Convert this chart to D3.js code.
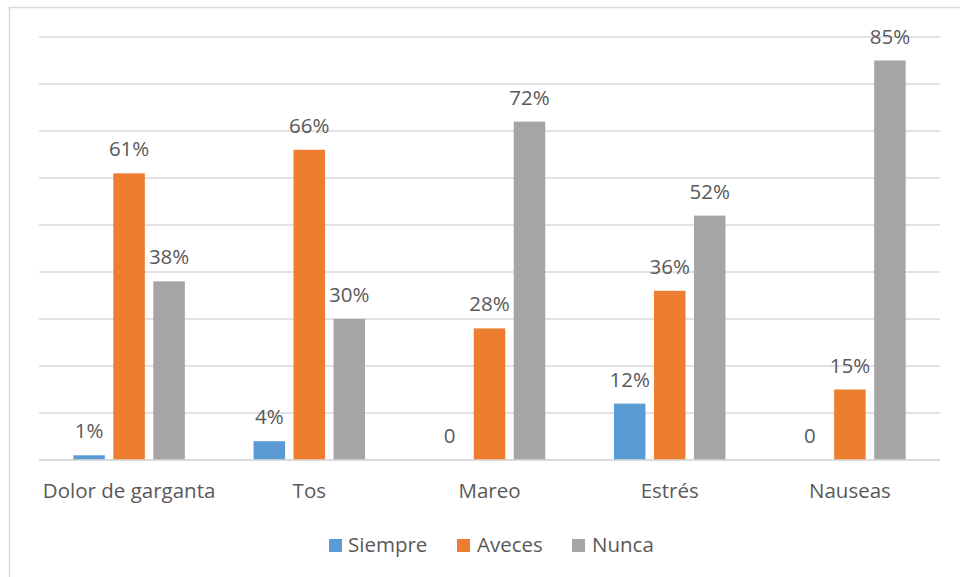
<!DOCTYPE html>
<html>
<head>
<meta charset="utf-8">
<script src="https://cdn.jsdelivr.net/npm/d3@7"></script>
<style>
  html, body { margin: 0; padding: 0; background: #fff; }
  text { font-family: "Open Sans", "Noto Sans", sans-serif; fill: #595959; }
</style>
</head>
<body>
<svg id="chart" width="960" height="577"></svg>
<script>
const categories = ["Dolor de garganta", "Tos", "Mareo", "Estrés", "Nauseas"];
const seriesNames = ["Siempre", "Aveces", "Nunca"];
const siempre = [1, 4, 0, 12, 0];
const aveces = [61, 66, 28, 36, 15];
const nunca = [38, 30, 72, 52, 85];
const colors = ["#5b9bd5", "#ed7d31", "#a5a5a5"];
const gridTicks = [0, 10, 20, 30, 40, 50, 60, 70, 80, 90];

const seriesValues = [siempre, aveces, nunca];
const svg = d3.select("#chart");
const FS = 20.5;

// outer frame
svg.append("rect")
  .attr("x", 9.5).attr("y", 7.5)
  .attr("width", 970).attr("height", 600)
  .attr("fill", "#fff").attr("stroke", "#d9d9d9").attr("stroke-width", 1.5);

const x0 = d3.scaleBand().domain(categories).range([39, 940]).paddingInner(0).paddingOuter(0);
const y = d3.scaleLinear().domain([0, 90]).range([460, 37]);

const barW = 31.5, gap = 8.5;
const x1 = d3.scaleOrdinal().domain(seriesNames)
  .range(seriesNames.map((s, i) => (i - 1) * (barW + gap) - barW / 2));

// gridlines
svg.append("g").selectAll("line").data(gridTicks).join("line")
  .attr("x1", 39).attr("x2", 940)
  .attr("y1", d => y(d)).attr("y2", d => y(d))
  .attr("stroke", "#d9d9d9").attr("stroke-width", 1.5);

// bars
const data = [];
categories.forEach((c, ci) => seriesNames.forEach((s, si) => data.push({ c, s, si, v: seriesValues[si][ci] })));

svg.append("g").selectAll("rect").data(data.filter(d => d.v > 0)).join("rect")
  .attr("x", d => x0(d.c) + x0.bandwidth() / 2 + x1(d.s))
  .attr("width", barW)
  .attr("y", d => y(d.v))
  .attr("height", d => y(0) - y(d.v))
  .attr("fill", d => colors[d.si]);

// redraw baseline over bars
svg.append("line").attr("x1", 39).attr("x2", 940).attr("y1", y(0)).attr("y2", y(0))
  .attr("stroke", "#d9d9d9").attr("stroke-width", 1.5);

// value labels
svg.append("g").selectAll("text").data(data).join("text")
  .attr("x", d => x0(d.c) + x0.bandwidth() / 2 + x1(d.s) + barW / 2)
  .attr("y", d => y(d.v) - 17)
  .attr("text-anchor", "middle")
  .attr("font-size", FS)
  .text(d => d.v === 0 ? "0" : d.v + "%");

// category axis labels
const xAxis = d3.axisBottom(x0).tickSize(0).tickPadding(0);
const ax = svg.append("g").attr("transform", `translate(0,${y(0)})`).call(xAxis);
ax.select(".domain").remove();
ax.selectAll("text")
  .attr("y", 38).attr("dy", null)
  .attr("font-size", FS)
  .style("font-family", '"Open Sans", "Noto Sans", sans-serif')
  .attr("fill", "#595959");

// legend
const legendItems = [
  { name: "Siempre", sx: 329, tx: 348 },
  { name: "Aveces", sx: 457, tx: 477 },
  { name: "Nunca", sx: 572, tx: 592 }
];
const lg = svg.append("g");
legendItems.forEach((it, i) => {
  lg.append("rect").attr("x", it.sx).attr("y", 539).attr("width", 13).attr("height", 13).attr("fill", colors[i]);
  lg.append("text").attr("x", it.tx).attr("y", 552).attr("font-size", FS).text(it.name);
});
</script>
</body>
</html>
